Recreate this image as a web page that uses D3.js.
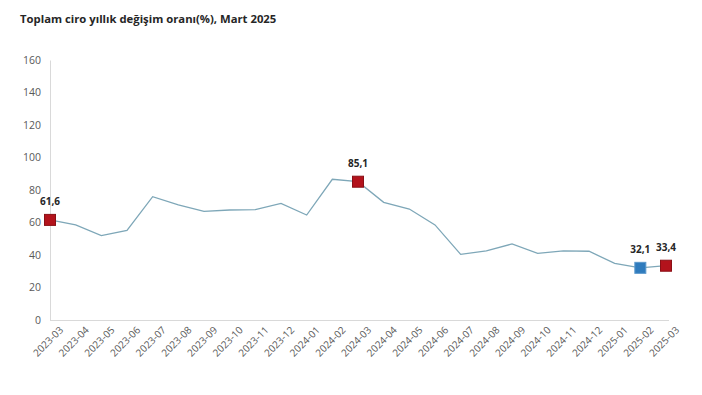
<!DOCTYPE html>
<html>
<head>
<meta charset="utf-8">
<script src="https://cdn.jsdelivr.net/npm/d3@7"></script>
<style>
  body { margin: 0; background: #fff; }
  svg { display: block; font-family: "Open Sans", "DejaVu Sans", sans-serif; }
</style>
</head>
<body>
<svg id="chart" width="702" height="395"></svg>
<script>
// months shown on the axis
var months = ['2023-03','2023-04','2023-05','2023-06','2023-07','2023-08','2023-09',
  '2023-10','2023-11','2023-12','2024-01','2024-02','2024-03','2024-04','2024-05',
  '2024-06','2024-07','2024-08','2024-09','2024-10','2024-11','2024-12','2025-01',
  '2025-02','2025-03'];
// yearly change of total turnover (%)
var values = [61.6, 58.5, 51.9, 55.2, 75.9, 70.8, 66.9, 67.7, 67.9, 71.8, 64.6, 86.6,
  85.1, 72.4, 68.3, 58.5, 40.4, 42.5, 46.8, 41.0, 42.5, 42.3, 34.9, 32.1, 33.4];
var yTicks = [0, 20, 40, 60, 80, 100, 120, 140, 160];
// highlighted points: red = March of each year, blue = previous month
var redPoints = ['2023-03', '2024-03', '2025-03'];
var bluePoints = ['2025-02'];

var svg = d3.select('#chart');
var margin = { left: 50 };

var x = d3.scalePoint().domain(months).range([margin.left, 666]);
var y = d3.scaleLinear().domain([0, 160]).range([320, 60]);

var fmt = function(v) { return d3.format('.1f')(v).replace('.', ','); };

svg.append('text')
  .attr('x', 20).attr('y', 23)
  .style('font-size', '11.3px').style('font-weight', 'bold').style('fill', '#262626')
  .text('Toplam ciro yıllık değişim oranı(%), Mart 2025');

// y axis labels
var yAxis = d3.axisLeft(y).tickValues(yTicks).tickSize(0).tickPadding(9);
svg.append('g').attr('transform', 'translate(' + margin.left + ',0)').call(yAxis)
  .call(function(g) {
    g.select('.domain').attr('stroke', '#d9d9d9');
    g.selectAll('text').style('font-size', '10.5px').style('fill', '#595959')
      .style('font-family', '"Open Sans", sans-serif');
  });

// x axis
var xAxis = d3.axisBottom(x).tickSize(0).tickPadding(7);
svg.append('g').attr('transform', 'translate(0,' + y(0) + ')').call(xAxis)
  .call(function(g) {
    g.select('.domain').attr('stroke', '#d9d9d9').attr('d', 'M' + margin.left + ',0.5H669');
    g.selectAll('text')
      .style('font-size', '10px').style('fill', '#595959')
      .style('font-family', '"Open Sans", sans-serif')
      .attr('text-anchor', 'end')
      .attr('dx', '0.2em').attr('dy', '1em')
      .attr('transform', 'rotate(-45)');
  });

var data = months.map(function(m, i) { return { m: m, v: values[i] }; });

svg.append('path').datum(data)
  .attr('fill', 'none').attr('stroke', '#7ea7b8').attr('stroke-width', 1.3)
  .attr('d', d3.line().x(function(d) { return x(d.m); }).y(function(d) { return y(d.v); }));

var marked = data.filter(function(d) {
  return redPoints.indexOf(d.m) >= 0 || bluePoints.indexOf(d.m) >= 0;
});
var ms = 11;
svg.selectAll('rect.marker').data(marked).enter().append('rect')
  .attr('class', 'marker')
  .attr('x', function(d) { return x(d.m) - ms / 2; })
  .attr('y', function(d) { return y(d.v) - ms / 2; })
  .attr('width', ms).attr('height', ms)
  .attr('fill', function(d) { return redPoints.indexOf(d.m) >= 0 ? '#b3131c' : '#2f7bbd'; })
  .attr('stroke', function(d) { return redPoints.indexOf(d.m) >= 0 ? '#8a1016' : '#5a98cc'; })
  .attr('stroke-width', 1);

svg.selectAll('text.lbl').data(marked).enter().append('text')
  .attr('class', 'lbl')
  .attr('x', function(d) { return x(d.m); })
  .attr('y', function(d) { return y(d.v) - 15; })
  .attr('text-anchor', 'middle')
  .style('font-size', '10px').style('font-weight', 'bold').style('fill', '#262626')
  .text(function(d) { return fmt(d.v); });
</script>
</body>
</html>
